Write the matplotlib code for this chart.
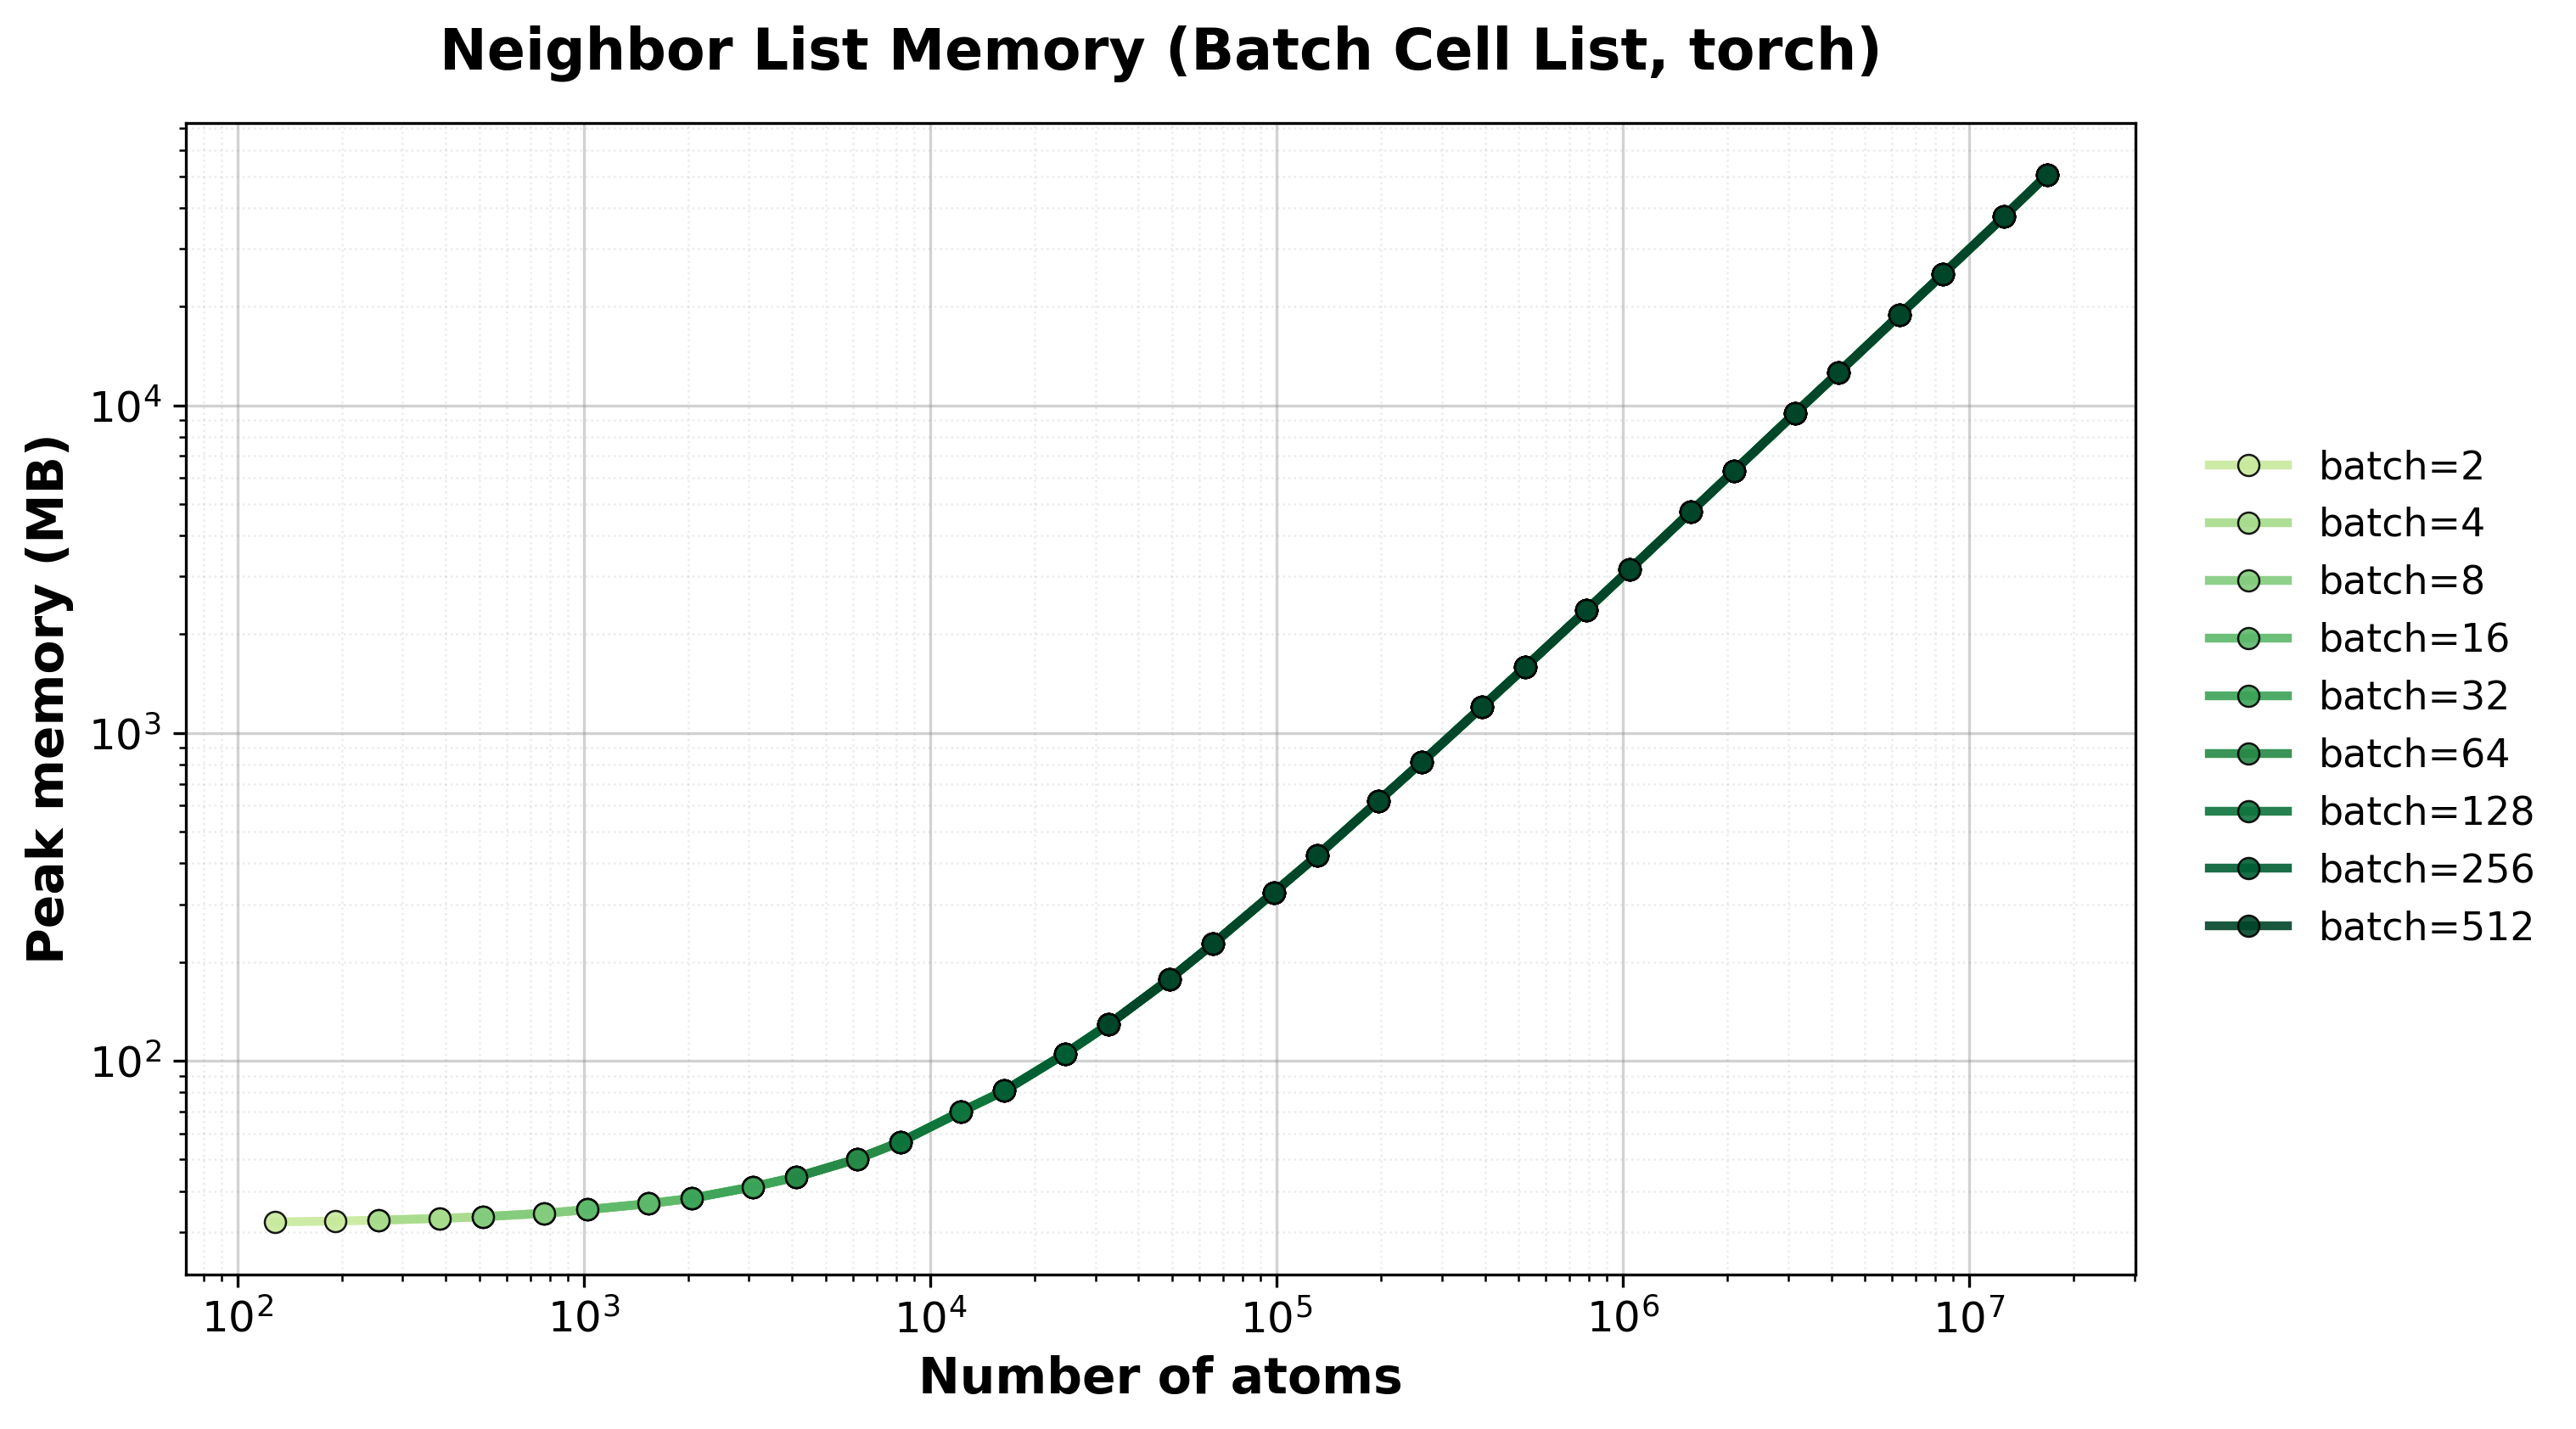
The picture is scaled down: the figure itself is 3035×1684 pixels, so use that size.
import numpy as np
import matplotlib
matplotlib.use('Agg')
import matplotlib.pyplot as plt

# batch sizes; every batch starts at 64 atoms per system
batch_sizes = [2, 4, 8, 16, 32, 64, 128, 256, 512]
min_system_size = 64

# peak memory (MB), by total atom count
total_atoms = [128, 192, 256, 384, 512, 768, 1024, 1536, 2048, 3072, 4096,
               6144, 8192, 12288, 16384, 24576, 32768, 49152, 65536, 98304,
               131072, 196608, 262144, 393216, 524288, 786432, 1048576,
               1572864, 2097152, 3145728, 4194304, 6291456, 8388608,
               12582912, 16777216]
peak_mb = [32.2, 32.4, 32.6, 33.0, 33.4, 34.2, 35.1, 36.6, 38.0, 41.2, 44.1,
           50.1, 56.4, 69.9, 80.9, 105.1, 129, 177.5, 227, 326,
           422, 619, 813, 1204, 1593, 2372, 3157,
           4733, 6310, 9460, 12580, 18840, 25090,
           37600, 50350]

colors = plt.cm.YlGn(np.linspace(0.3, 1.0, len(batch_sizes)))

fig, ax = plt.subplots(figsize=(3035 / 300, 1684 / 300), dpi=300)
fig.subplots_adjust(left=0.0722, right=0.829, top=0.914, bottom=0.1083)

for b, c in zip(batch_sizes, colors):
    x = [a for a in total_atoms if a >= b * min_system_size]
    y = [m for a, m in zip(total_atoms, peak_mb) if a >= b * min_system_size]
    ax.plot(x, y, 'o-', color=c, label=f'batch={b}', linewidth=2.5,
            markersize=6, markeredgecolor='black', markeredgewidth=0.6,
            alpha=0.9)

ax.set_xscale('log')
ax.set_yscale('log')
ax.set_xlabel('Number of atoms', fontsize=14, fontweight='bold')
ax.set_ylabel('Peak memory (MB)', fontsize=14, fontweight='bold')
ax.set_title('Neighbor List Memory (Batch Cell List, torch)', fontsize=16,
             fontweight='bold', pad=15)
ax.tick_params(axis='both', which='major', labelsize=12)
ax.grid(True, which='major', color='gray', alpha=0.35, linewidth=0.8)
ax.grid(True, which='minor', linestyle=':', color='gray', alpha=0.15,
        linewidth=0.6)
ax.legend(loc='center left', bbox_to_anchor=(1.02, 0.5), frameon=False,
          fontsize=11)

fig.savefig('out.png', dpi=300)
